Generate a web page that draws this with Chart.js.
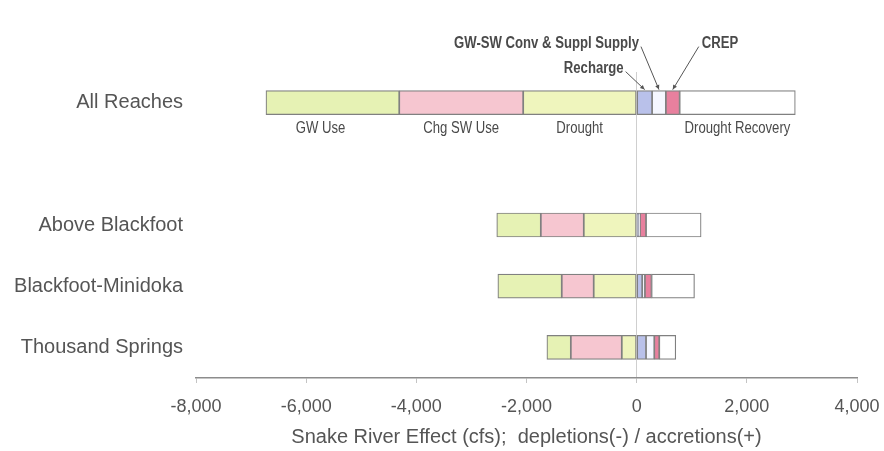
<!DOCTYPE html>
<html>
<head>
<meta charset="utf-8">
<title>Snake River Effect</title>
<script src="https://cdn.jsdelivr.net/npm/chart.js@4.4.1/dist/chart.umd.min.js"></script>
<style>
  html, body { margin: 0; padding: 0; background: #fff; }
  #chart { display: block; }
</style>
</head>
<body>
<canvas id="chart" width="884" height="451"></canvas>
<script>
// ===== Data (cfs) =====
const reaches = ["All Reaches", "", "Above Blackfoot", "Blackfoot-Minidoka", "Thousand Springs"];

// depletions, listed from zero outward
const drought = [-2060, null, -960, -780, -270];
const chgSwUse = [-2250, null, -780, -580, -925];
const gwUse = [-2420, null, -800, -1160, -435];

// accretions, listed from zero outward
const recharge = [280, null, 40, 100, 170];
const gwSwConv = [250, null, 20, 50, 150];
const crep = [250, null, 110, 120, 90];
const droughtRecovery = [2100, null, 1000, 780, 300];

const xTicks = [-8000, -6000, -4000, -2000, 0, 2000, 4000];

const SANS = "Arial, 'Liberation Sans', sans-serif";
const NARROW_SCALE = 0.82; // no Arial Narrow here, so squeeze Arial

// [dataset index, text, x offset]
const belowLabels = [
  [2, "GW Use", -12],
  [1, "Chg SW Use", 0],
  [0, "Drought", 0],
  [6, "Drought Recovery", 0],
];

// [dataset index, text, dx, dy, align]
const callouts = [
  [3, "Recharge", -21, -22, "right"],
  [4, "GW-SW Conv & Suppl Supply", -20, -47, "right"],
  [5, "CREP", 29, -47, "left"],
];

function narrowText(ctx, text, x, y) {
  ctx.save();
  ctx.translate(x, y);
  ctx.scale(NARROW_SCALE, 1);
  ctx.fillText(text, 0, 0);
  ctx.restore();
}

/**
 * Writes the segment names on the "All Reaches" bar.
 */
const annotate = {
  id: "annotate",
  afterDatasetsDraw(chart) {
    const ctx = chart.ctx;
    const seg = (i) => {
      const bar = chart.getDatasetMeta(i).data[0];
      return {
        mid: (bar.x + bar.base) / 2,
        top: bar.y - bar.height / 2,
        bottom: bar.y + bar.height / 2,
      };
    };

    ctx.save();
    ctx.fillStyle = "#4a4a4a";
    ctx.font = `16px ${SANS}`;
    ctx.textAlign = "center";
    ctx.textBaseline = "top";
    belowLabels.forEach(([i, text, dx]) => {
      const s = seg(i);
      narrowText(ctx, text, s.mid + dx, s.bottom + 6);
    });

    ctx.font = `bold 16px ${SANS}`;
    ctx.textBaseline = "middle";
    ctx.strokeStyle = "#555";
    ctx.lineWidth = 1;
    callouts.forEach(([i, text, dx, dy, align]) => {
      const s = seg(i);
      const tx = s.mid + dx;
      const ty = s.top + dy;
      ctx.textAlign = align;
      narrowText(ctx, text, tx, ty);

      const x0 = align === "right" ? tx + 2 : tx - 3;
      const y0 = ty + 3;
      const x1 = s.mid;
      const y1 = s.top - 1;
      ctx.beginPath();
      ctx.moveTo(x0, y0);
      ctx.lineTo(x1, y1);
      ctx.stroke();

      // small arrow head
      const ang = Math.atan2(y1 - y0, x1 - x0);
      ctx.beginPath();
      ctx.moveTo(x1, y1);
      ctx.lineTo(x1 - 5 * Math.cos(ang - 0.45), y1 - 5 * Math.sin(ang - 0.45));
      ctx.lineTo(x1 - 5 * Math.cos(ang + 0.45), y1 - 5 * Math.sin(ang + 0.45));
      ctx.closePath();
      ctx.fillStyle = "#555";
      ctx.fill();
      ctx.fillStyle = "#4a4a4a";
    });
    ctx.restore();
  },
};

const segment = (label, data, color) => ({
  label,
  data,
  backgroundColor: color,
  borderColor: "#808080",
  borderWidth: 1.2,
  borderSkipped: false,
  barThickness: 24,
});

new Chart(document.getElementById("chart"), {
  type: "bar",
  data: {
    labels: reaches,
    datasets: [
      segment("Drought", drought, "#eff5bd"),
      segment("Chg SW Use", chgSwUse, "#f6c6d0"),
      segment("GW Use", gwUse, "#e6f2b4"),
      segment("Recharge", recharge, "#b9c1ea"),
      segment("GW-SW Conv & Suppl Supply", gwSwConv, "#f5f7ff"),
      segment("CREP", crep, "#e8809e"),
      segment("Drought Recovery", droughtRecovery, "#ffffff"),
    ],
  },
  options: {
    indexAxis: "y",
    responsive: false,
    animation: false,
    layout: { padding: { top: 72, right: 27, bottom: 0, left: 0 } },
    plugins: {
      legend: { display: false },
      tooltip: { enabled: false },
    },
    scales: {
      x: {
        type: "linear",
        stacked: true,
        min: -8000,
        max: 4000,
        afterBuildTicks: (scale) => {
          scale.ticks = xTicks.map((v) => ({ value: v }));
        },
        afterFit: (scale) => {
          scale.height = 73;
          scale.paddingLeft = 0;
          scale.paddingRight = 0;
        },
        ticks: {
          color: "#555",
          font: { family: SANS, size: 18 },
          padding: 13,
          callback: (v) => v.toLocaleString("en-US"),
        },
        grid: {
          color: (c) => (c.tick && c.tick.value === 0 ? "#cfcfcf" : "rgba(0,0,0,0)"),
          tickColor: "#c4c4c4",
          tickLength: 5,
        },
        border: { color: "#8c8c8c", width: 1.5 },
        title: {
          display: true,
          text: "Snake River Effect (cfs);  depletions(-) / accretions(+)",
          color: "#555",
          font: { family: SANS, size: 20 },
          padding: { top: 4, bottom: 2 },
        },
      },
      y: {
        stacked: true,
        afterFit: (scale) => {
          scale.width = 196;
        },
        grid: { display: false, drawTicks: false },
        border: { display: false },
        ticks: {
          color: "#555",
          font: { family: SANS, size: 20 },
          padding: 13,
        },
      },
    },
  },
  plugins: [annotate],
});
</script>
</body>
</html>
